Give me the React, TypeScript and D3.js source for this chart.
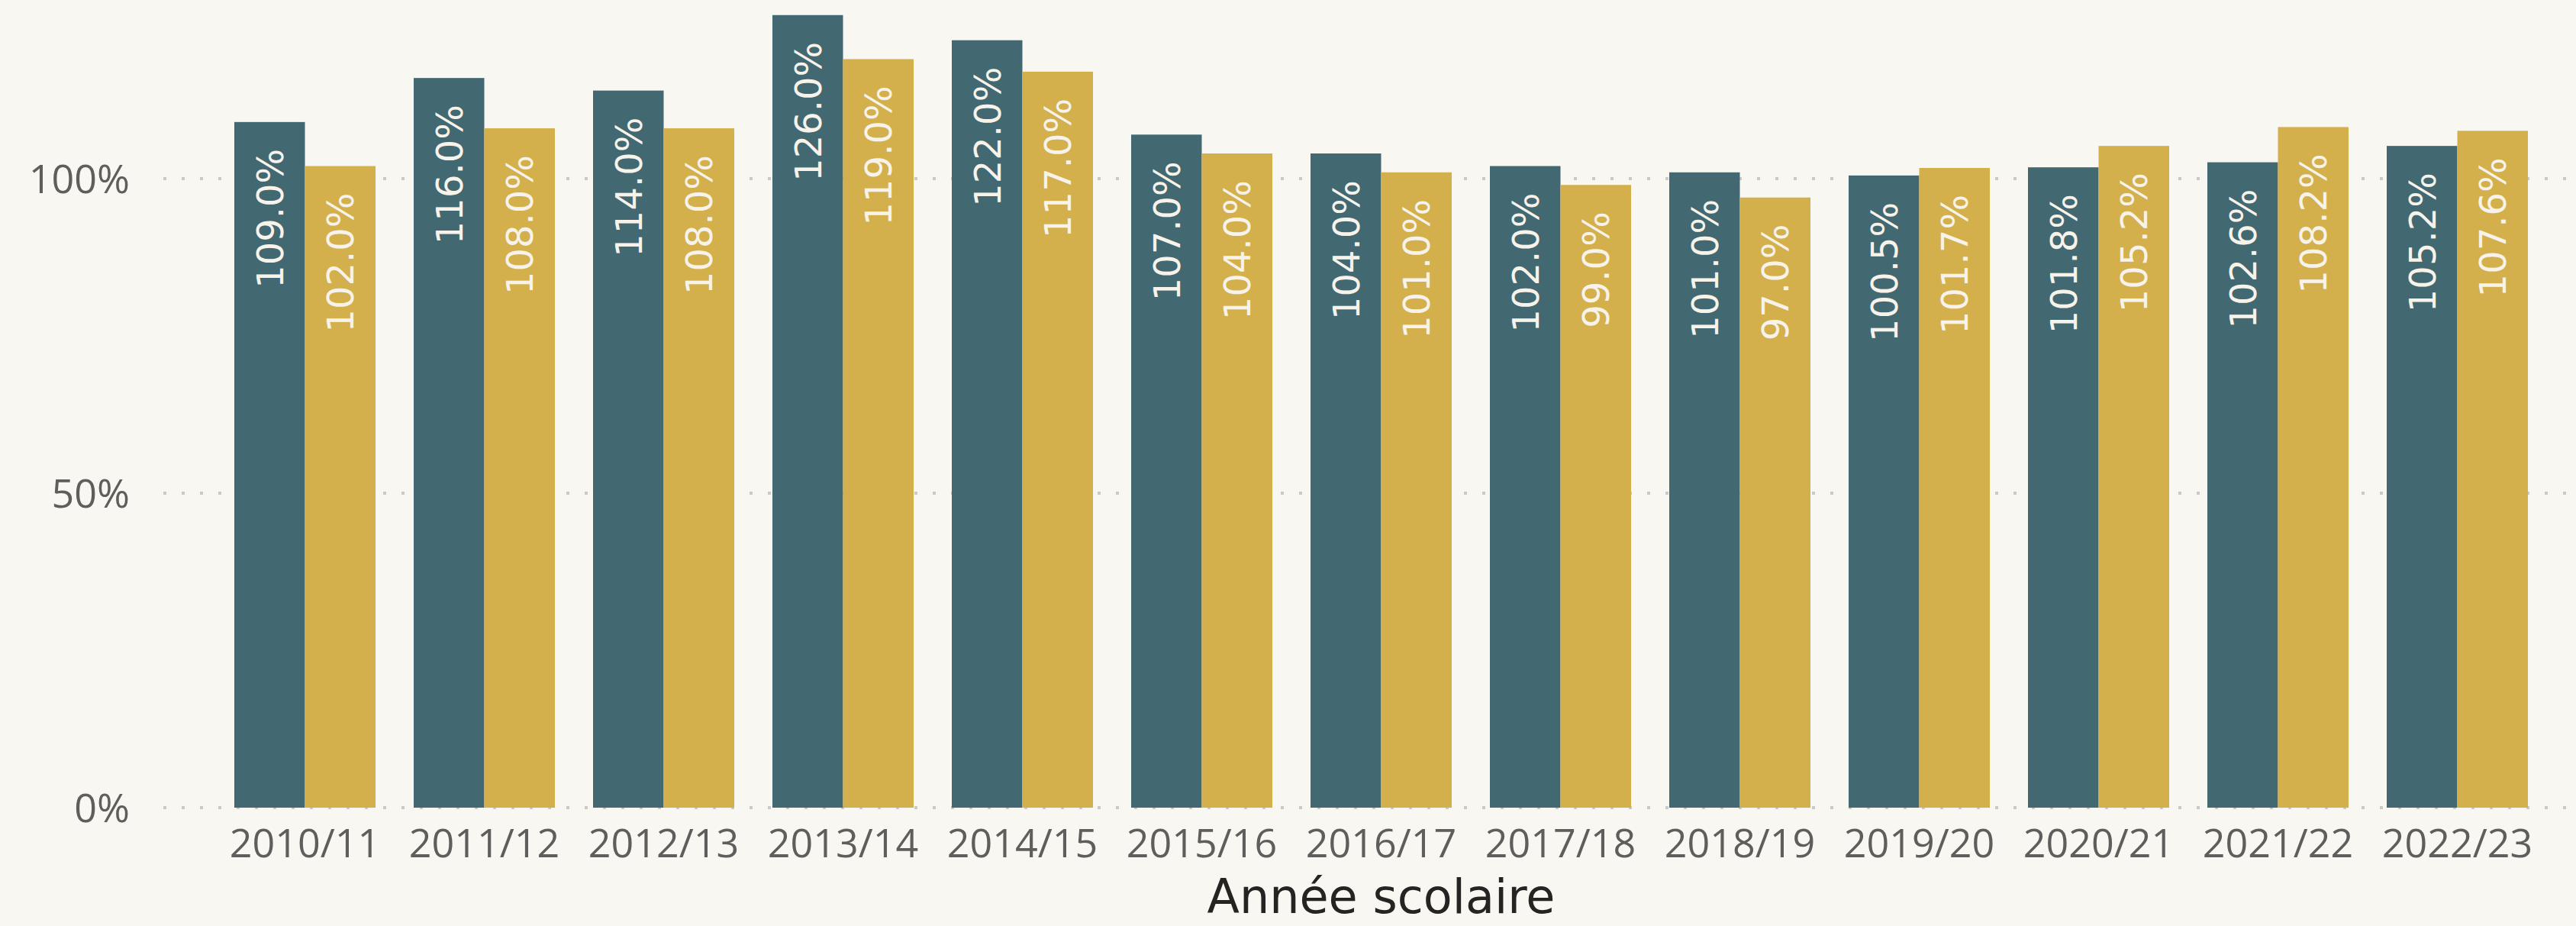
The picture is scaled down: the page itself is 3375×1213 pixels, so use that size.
import React, { useEffect } from "react";
import * as d3 from "d3";

const years = ["2010/11","2011/12","2012/13","2013/14","2014/15","2015/16","2016/17","2017/18","2018/19","2019/20","2020/21","2021/22","2022/23"];
const seriesA = [109.0,116.0,114.0,126.0,122.0,107.0,104.0,102.0,101.0,100.5,101.8,102.6,105.2];
const seriesB = [102.0,108.0,108.0,119.0,117.0,104.0,101.0,99.0,97.0,101.7,105.2,108.2,107.6];
const yTicks = [0, 50, 100];
const xTitle = "Année scolaire";

const W = 3375, H = 1213;
const BG = "#f8f7f2";
const TEAL = "#426872";
const GOLD = "#d3b04c";

export default function App() {
  useEffect(() => {
    document.body.style.margin = "0";
    document.body.style.background = BG;
  }, []);

  const x = d3.scaleBand<string>().domain(years).range([282, 3337]).paddingInner(0.2128).paddingOuter(0.1064);
  const sub = d3.scaleBand<string>().domain(["A", "B"]).range([0, x.bandwidth()]);
  const y = d3.scaleLinear().domain([0, 100]).range([1058, 234]);
  const series = [
    { key: "A", values: seriesA, color: TEAL },
    { key: "B", values: seriesB, color: GOLD },
  ];
  const fmt = (v: number) => d3.format(".1f")(v) + "%";

  return (
    <svg width={W} height={H} style={{ display: "block", background: BG }}>
      <rect x={0} y={0} width={W} height={H} fill={BG} />
      {yTicks.map((t) => (
        <g key={t}>
          <line x1={214} x2={W} y1={y(t)} y2={y(t)} stroke="#cacaca" strokeWidth={4} strokeDasharray="4 20" />
          <text x={170} y={y(t)} dy="0.36em" textAnchor="end" fontFamily="'Open Sans', sans-serif" fontSize={52} fill="#605e5c">
            {t}%
          </text>
        </g>
      ))}
      {series.map((s) =>
        s.values.map((v, i) => {
          const bx = (x(years[i]) as number) + (sub(s.key) as number);
          const bw = sub.bandwidth();
          return (
            <g key={s.key + i}>
              <rect x={bx} y={y(v)} width={bw} height={y(0) - y(v)} fill={s.color} />
              <text
                transform={`translate(${bx + bw / 2},${y(v) + 35}) rotate(-90)`}
                textAnchor="end"
                dy="0.36em"
                fontFamily="'DejaVu Sans', sans-serif"
                fontSize={48}
                fill="#f7f3ea"
              >
                {fmt(v)}
              </text>
            </g>
          );
        })
      )}
      {years.map((yr) => (
        <text key={yr} x={(x(yr) as number) + x.bandwidth() / 2} y={1123} textAnchor="middle" fontFamily="'Open Sans', sans-serif" fontSize={52} fill="#605e5c">
          {yr}
        </text>
      ))}
      <text x={(x(years[0]) as number + (x(years[years.length - 1]) as number) + x.bandwidth()) / 2} y={1196} textAnchor="middle" fontFamily="'DejaVu Sans', sans-serif" fontSize={62} fill="#252423">
        {xTitle}
      </text>
    </svg>
  );
}
